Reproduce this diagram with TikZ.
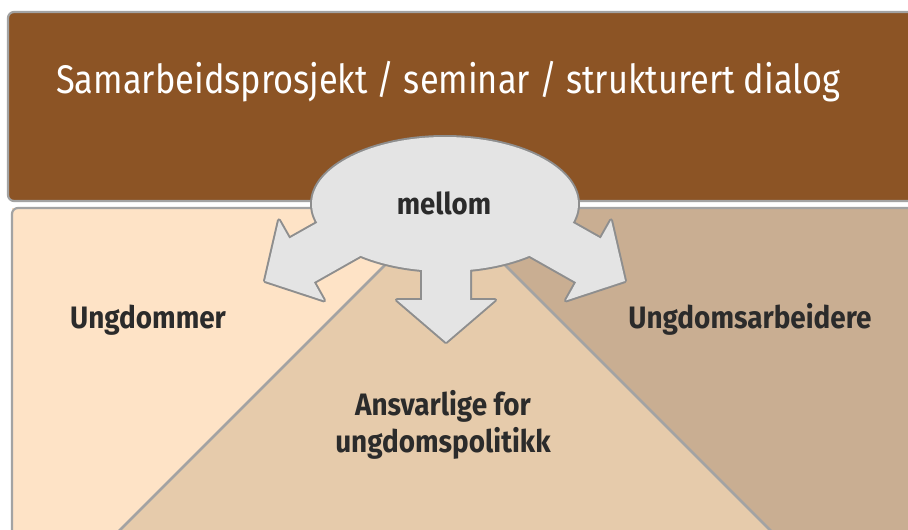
\documentclass[tikz,border=0pt]{standalone}
\usepackage{fontspec}
\newfontfamily\titlefont{Fira Sans}[FakeStretch=0.86]
\newfontfamily\labelfont{Fira Sans}[FakeStretch=0.9]
\newfontfamily\mellomfont{Fira Sans}[FakeStretch=0.92]
\definecolor{brownbox}{HTML}{8C5425}
\definecolor{peach}{HTML}{FEE3C6}
\definecolor{midtan}{HTML}{E6CBAB}
\definecolor{darktan}{HTML}{C9AE92}
\definecolor{bubble}{HTML}{E4E4E4}
\definecolor{bubbleline}{HTML}{8E8E8E}
\definecolor{edgegray}{HTML}{A3A3A3}
\definecolor{textdark}{HTML}{2B2B2B}
\tikzset{
  boxedge/.style={draw=edgegray, line width=2.2pt},
  sepline/.style={draw=edgegray, line width=2.6pt},
  bubbleout/.style={draw=bubbleline, line width=4pt, line join=round},
  bubblein/.style={fill=bubble},
  lbl/.style={text=textdark, font=\labelfont\bfseries\fontsize{31}{36}\selectfont, inner sep=0pt, align=center},
}
\begin{document}
\begin{tikzpicture}[x=1pt,y=-1pt]
\useasboundingbox (0,0) rectangle (908,530);
\fill[white] (0,0) rectangle (908,530);
\clip (0,0) rectangle (908,530);
% top box
\draw[boxedge, fill=brownbox, rounded corners=6pt] (8,12) rectangle (930,201);
% lower box
\fill[peach] (12,208) rectangle (930,560);
\fill[darktan] (445,208) rectangle (930,560);
\fill[midtan] (445,205) -- (90,560) -- (800,560) -- cycle;
\draw[sepline] (445,205) -- (90,560);
\draw[sepline] (445,205) -- (800,560);
\draw[boxedge, rounded corners=6pt] (930,208) -- (12,208) -- (12,560);
% bubble with three arrows
\def\leftarrowpath{(392,238) -- (313.8,282.2) -- (324,300.4) -- (265,281) -- (279,220.4) -- (289.3,238.6) -- (367.5,194.5) -- cycle}
\def\rightarrowpath{(498,238) -- (576.2,282.2) -- (566,300.4) -- (625,281) -- (611,220.4) -- (600.7,238.6) -- (522.5,194.5) -- cycle}
\def\downarrowpath{(422,240) -- (422,300) -- (397,300) -- (446,342) -- (495,300) -- (470,300) -- (470,240) -- cycle}
\draw[bubbleout] (445,204) ellipse [x radius=133, y radius=67];
\draw[bubbleout] \leftarrowpath;
\draw[bubbleout] \rightarrowpath;
\draw[bubbleout] \downarrowpath;
\fill[bubblein] (445,204) ellipse [x radius=133, y radius=67];
\fill[bubblein] \leftarrowpath;
\fill[bubblein] \rightarrowpath;
\fill[bubblein] \downarrowpath;
% texts
\node[anchor=base west, inner sep=0pt, text=white, font=\titlefont\fontsize{40}{46}\selectfont] (title) at (56,93) {Samarbeidsprosjekt / seminar / strukturert dialog};
\node[lbl, anchor=base, font=\mellomfont\bfseries\fontsize{30}{36}\selectfont] (mellom) at (444,214) {mellom};
\node[lbl, anchor=base] (ung) at (148,328) {Ungdommer};
\node[lbl, anchor=base] (arb) at (750,328) {Ungdomsarbeidere};
\node[lbl, anchor=base] (ans1) at (443,415) {Ansvarlige for};
\node[lbl, anchor=base] (ans2) at (443,452) {ungdomspolitikk};
\end{tikzpicture}
\end{document}
